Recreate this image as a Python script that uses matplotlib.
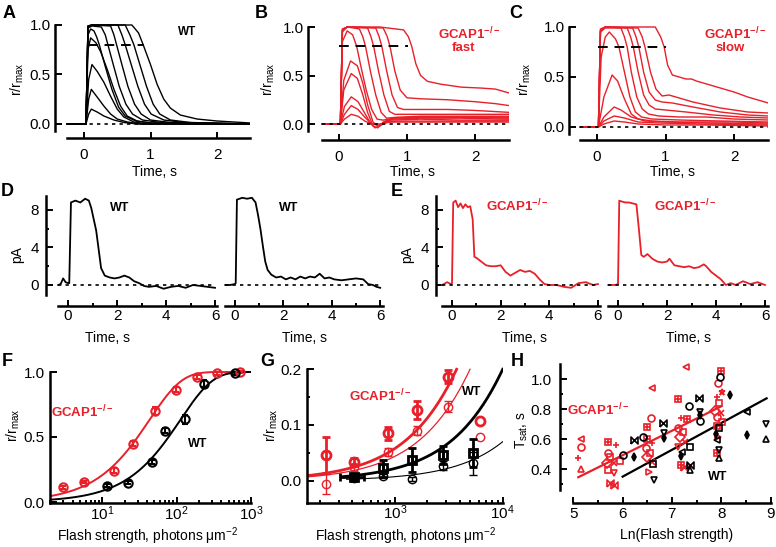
import numpy as np
import matplotlib
matplotlib.use("Agg")
import matplotlib.pyplot as plt
from matplotlib.ticker import LogLocator, NullFormatter

plt.rcParams['font.family'] = ['Liberation Sans', 'DejaVu Sans']
plt.rcParams['mathtext.fontset'] = 'custom'
plt.rcParams['mathtext.rm'] = 'Liberation Sans'
plt.rcParams['mathtext.it'] = 'Liberation Sans:italic'
plt.rcParams['mathtext.bf'] = 'Liberation Sans:bold'

RED = '#e8202a'
TICK_FS = 11
LABEL_FS = 10

# ---------------- data ----------------
# A: WT normalised flash responses (time s, r/rmax)
wt_traces = [
    ([-0.25, 0.03, 0.07, 0.11, 0.2, 0.3, 0.45, 0.6, 0.8, 2.5],
     [0, 0, 0.1, 0.15, 0.12, 0.08, 0.04, 0.015, 0, 0]),
    ([-0.25, 0.03, 0.07, 0.11, 0.2, 0.3, 0.4, 0.5, 0.65, 0.85, 2.5],
     [0, 0, 0.25, 0.35, 0.27, 0.18, 0.1, 0.05, 0.02, 0, 0]),
    ([-0.25, 0.03, 0.07, 0.12, 0.2, 0.3, 0.4, 0.5, 0.6, 0.75, 0.95, 2.5],
     [0, 0, 0.45, 0.6, 0.53, 0.42, 0.28, 0.15, 0.07, 0.02, 0, 0]),
    ([-0.25, 0.03, 0.06, 0.1, 0.18, 0.25, 0.35, 0.45, 0.55, 0.65, 0.8, 1.0, 2.5],
     [0, 0, 0.75, 0.87, 0.82, 0.73, 0.55, 0.35, 0.18, 0.08, 0.03, 0.01, 0]),
    ([-0.25, 0.03, 0.06, 0.1, 0.15, 0.19, 0.23, 0.32, 0.42, 0.52, 0.62, 0.78, 1.0, 2.5],
     [0, 0, 0.9, 0.96, 0.94, 0.88, 0.8, 0.58, 0.35, 0.17, 0.08, 0.03, 0.01, 0]),
    ([-0.25, 0.03, 0.06, 0.12, 0.26, 0.32, 0.36, 0.44, 0.53, 0.63, 0.73, 0.88, 1.2, 2.5],
     [0, 0, 0.97, 0.99, 0.98, 0.9, 0.8, 0.6, 0.38, 0.2, 0.1, 0.04, 0.01, 0]),
    ([-0.25, 0.03, 0.06, 0.12, 0.4, 0.45, 0.49, 0.57, 0.66, 0.76, 0.86, 1.0, 1.3, 2.5],
     [0, 0, 0.98, 1.0, 0.99, 0.9, 0.8, 0.6, 0.38, 0.2, 0.1, 0.04, 0.015, 0]),
    ([-0.25, 0.03, 0.06, 0.12, 0.51, 0.57, 0.62, 0.71, 0.81, 0.91, 1.01, 1.2, 1.5, 2.5],
     [0, 0, 0.99, 1.0, 1.0, 0.9, 0.8, 0.6, 0.38, 0.2, 0.1, 0.04, 0.015, 0]),
    ([-0.25, 0.03, 0.06, 0.12, 0.62, 0.69, 0.75, 0.84, 0.94, 1.04, 1.14, 1.3, 1.6, 2.5],
     [0, 0, 0.99, 1.0, 1.0, 0.9, 0.8, 0.6, 0.38, 0.2, 0.1, 0.04, 0.015, 0]),
    ([-0.25, 0.03, 0.06, 0.12, 0.72, 0.82, 0.89, 1.0, 1.1, 1.2, 1.3, 1.45, 1.7, 2.0, 2.5],
     [0, 0, 0.99, 1.0, 1.0, 0.92, 0.8, 0.6, 0.4, 0.25, 0.16, 0.09, 0.05, 0.03, 0.01]),
]

# B: GCAP1-/- fast rods
fast_traces = [
    ([-0.25, 0.02, 0.08, 0.18, 0.28, 0.38, 0.48, 0.6, 0.75, 1.0, 1.5, 2.0, 2.5],
     [0, 0, 0.05, 0.1, 0.08, 0.03, 0.0, 0.0, 0.02, 0.02, 0.02, 0.02, 0.02]),
    ([-0.25, 0.02, 0.08, 0.18, 0.28, 0.38, 0.48, 0.58, 0.7, 0.85, 1.2, 1.8, 2.5],
     [0, 0, 0.1, 0.19, 0.15, 0.07, 0.0, -0.01, 0.02, 0.03, 0.03, 0.03, 0.03]),
    ([-0.25, 0.02, 0.08, 0.18, 0.28, 0.38, 0.47, 0.53, 0.6, 0.75, 1.2, 1.8, 2.5],
     [0, 0, 0.18, 0.28, 0.23, 0.11, 0.0, -0.04, -0.02, 0.04, 0.05, 0.04, 0.04]),
    ([-0.25, 0.02, 0.07, 0.18, 0.27, 0.35, 0.42, 0.5, 0.57, 0.65, 0.8, 1.2, 1.8, 2.5],
     [0, 0, 0.35, 0.52, 0.47, 0.3, 0.12, -0.02, -0.04, 0.02, 0.05, 0.06, 0.06, 0.05]),
    ([-0.25, 0.02, 0.07, 0.17, 0.27, 0.35, 0.42, 0.5, 0.58, 0.68, 0.8, 1.2, 1.8, 2.5],
     [0, 0, 0.45, 0.65, 0.6, 0.42, 0.2, 0.02, -0.03, 0.03, 0.06, 0.07, 0.07, 0.06]),
    ([-0.25, 0.02, 0.05, 0.12, 0.2, 0.26, 0.32, 0.4, 0.48, 0.56, 0.65, 0.8, 1.2, 1.8, 2.5],
     [0, 0, 0.85, 0.96, 0.92, 0.8, 0.6, 0.35, 0.15, 0.05, 0.04, 0.06, 0.07, 0.07, 0.07]),
    ([-0.25, 0.02, 0.05, 0.12, 0.3, 0.35, 0.39, 0.46, 0.54, 0.62, 0.7, 0.85, 1.2, 1.8, 2.5],
     [0, 0, 0.95, 1.0, 0.98, 0.9, 0.8, 0.55, 0.3, 0.12, 0.06, 0.07, 0.08, 0.08, 0.08]),
    ([-0.25, 0.02, 0.05, 0.12, 0.42, 0.47, 0.51, 0.58, 0.66, 0.74, 0.82, 1.0, 1.5, 2.0, 2.5],
     [0, 0, 0.97, 1.0, 0.99, 0.9, 0.8, 0.55, 0.3, 0.13, 0.1, 0.1, 0.1, 0.1, 0.1]),
    ([-0.25, 0.02, 0.05, 0.12, 0.54, 0.59, 0.63, 0.7, 0.78, 0.86, 0.95, 1.2, 1.6, 2.0, 2.5],
     [0, 0, 0.97, 1.0, 0.99, 0.9, 0.8, 0.55, 0.3, 0.17, 0.15, 0.15, 0.15, 0.14, 0.12]),
    ([-0.25, 0.02, 0.05, 0.12, 0.65, 0.71, 0.75, 0.82, 0.9, 1.0, 1.2, 1.6, 2.0, 2.3, 2.5],
     [0, 0, 0.97, 1.0, 0.99, 0.9, 0.8, 0.55, 0.35, 0.27, 0.26, 0.25, 0.23, 0.21, 0.19]),
    ([-0.25, 0.02, 0.05, 0.12, 0.6, 0.95, 1.02, 1.07, 1.13, 1.2, 1.3, 1.5, 1.8, 2.1, 2.3, 2.5],
     [0, 0, 0.98, 1.0, 1.0, 0.97, 0.9, 0.8, 0.62, 0.5, 0.44, 0.41, 0.38, 0.37, 0.36, 0.32]),
]

# C: GCAP1-/- slow rods
slow_traces = [
    ([-0.25, 0.02, 0.1, 0.25, 0.4, 0.6, 1.0, 1.6, 2.5],
     [0, 0, 0.03, 0.06, 0.05, 0.03, 0.02, 0.02, 0.01]),
    ([-0.25, 0.02, 0.1, 0.25, 0.4, 0.6, 0.9, 1.5, 2.5],
     [0, 0, 0.06, 0.11, 0.09, 0.05, 0.04, 0.03, 0.02]),
    ([-0.25, 0.02, 0.1, 0.25, 0.35, 0.5, 0.7, 1.0, 1.6, 2.5],
     [0, 0, 0.1, 0.2, 0.17, 0.1, 0.06, 0.05, 0.04, 0.03]),
    ([-0.25, 0.02, 0.1, 0.22, 0.3, 0.4, 0.5, 0.6, 0.8, 1.2, 2.0, 2.5],
     [0, 0, 0.3, 0.52, 0.46, 0.28, 0.13, 0.08, 0.06, 0.05, 0.05, 0.04]),
    ([-0.25, 0.02, 0.06, 0.12, 0.18, 0.27, 0.32, 0.4, 0.48, 0.56, 0.65, 0.8, 1.2, 1.8, 2.5],
     [0, 0, 0.7, 0.9, 0.95, 0.88, 0.8, 0.55, 0.3, 0.15, 0.1, 0.08, 0.07, 0.06, 0.05]),
    ([-0.25, 0.02, 0.05, 0.12, 0.35, 0.4, 0.44, 0.5, 0.58, 0.66, 0.75, 0.9, 1.2, 1.6, 2.0, 2.5],
     [0, 0, 0.95, 0.99, 0.99, 0.9, 0.8, 0.55, 0.3, 0.18, 0.13, 0.11, 0.1, 0.1, 0.08, 0.07]),
    ([-0.25, 0.02, 0.05, 0.12, 0.44, 0.49, 0.53, 0.6, 0.68, 0.76, 0.85, 1.0, 1.3, 1.7, 2.1, 2.5],
     [0, 0, 0.96, 1.0, 0.99, 0.9, 0.8, 0.55, 0.32, 0.22, 0.18, 0.17, 0.15, 0.12, 0.1, 0.09]),
    ([-0.25, 0.02, 0.05, 0.12, 0.52, 0.57, 0.61, 0.68, 0.76, 0.85, 0.95, 1.1, 1.4, 1.8, 2.2, 2.5],
     [0, 0, 0.97, 1.0, 0.99, 0.9, 0.8, 0.55, 0.35, 0.27, 0.25, 0.24, 0.2, 0.15, 0.12, 0.11]),
    ([-0.25, 0.02, 0.05, 0.12, 0.6, 0.66, 0.7, 0.78, 0.86, 0.95, 1.05, 1.15, 1.4, 1.8, 2.2, 2.5],
     [0, 0, 0.97, 1.0, 0.99, 0.9, 0.8, 0.55, 0.38, 0.31, 0.32, 0.3, 0.25, 0.19, 0.15, 0.14]),
    ([-0.25, 0.02, 0.05, 0.12, 0.85, 0.93, 0.98, 1.03, 1.1, 1.2, 1.3, 1.38, 1.45, 1.6, 1.8, 2.0, 2.2, 2.5],
     [0, 0, 0.98, 1.0, 1.0, 0.9, 0.8, 0.62, 0.52, 0.5, 0.48, 0.48, 0.46, 0.43, 0.39, 0.35, 0.3, 0.24]),
]

# D / E: single saturating responses (time s, pA)
d_wt1_t = [-0.4, -0.3, -0.2, -0.1, 0.0, 0.05, 0.12, 0.3, 0.5, 0.7, 0.85, 0.95, 1.05, 1.15, 1.25, 1.35,
           1.5, 1.7, 1.9, 2.1, 2.3, 2.5, 2.7, 2.9, 3.1, 3.3, 3.6, 3.9, 4.2, 4.5, 4.8, 5.1, 5.4, 5.7, 6.0]
d_wt1_pa = [0, 0.1, 0.7, 0.3, 0.2, 0.2, 8.8, 9.0, 8.8, 9.2, 9.0, 8.2, 7.0, 5.8, 3.8, 1.8,
            1.0, 0.8, 0.7, 0.8, 1.0, 0.8, 0.4, 0.2, -0.1, -0.2, -0.1, -0.4, -0.2, -0.1, -0.3, 0.0, -0.1, -0.2, -0.3]
d_wt2_t = [-0.4, -0.2, 0.0, 0.03, 0.08, 0.3, 0.5, 0.7, 0.85, 0.95, 1.05, 1.15, 1.25, 1.35, 1.5, 1.7,
           1.9, 2.1, 2.3, 2.5, 2.7, 2.9, 3.1, 3.3, 3.5, 3.7, 3.9, 4.1, 4.4, 4.7, 5.0, 5.3, 5.5, 5.7, 5.85, 6.0]
d_wt2_pa = [0, 0, 0.1, 0.2, 9.1, 9.3, 9.2, 9.3, 8.8, 7.5, 6.0, 4.2, 2.5, 1.6, 1.1, 0.8,
            0.9, 0.6, 0.8, 0.6, 0.9, 0.7, 0.9, 0.8, 1.2, 0.7, 0.8, 0.6, 0.5, 0.6, 0.7, 0.6, 0.1, 0.0, -0.2, -0.3]
e_ko1_t = [-0.4, -0.2, -0.05, 0.0, 0.05, 0.15, 0.25, 0.35, 0.45, 0.55, 0.65, 0.75, 0.85, 0.92, 1.0, 1.2,
           1.4, 1.6, 1.8, 2.0, 2.2, 2.4, 2.6, 2.8, 3.0, 3.2, 3.4, 3.6, 3.8, 4.0, 4.3, 4.6, 4.9, 5.2, 5.5, 5.8, 6.0]
e_ko1_pa = [0, 0.3, 0.1, 0.2, 8.8, 9.0, 8.3, 8.7, 8.2, 8.6, 8.3, 8.4, 7.0, 3.0, 2.9, 2.5,
            2.1, 2.0, 2.0, 2.1, 1.4, 1.0, 1.3, 1.6, 1.4, 1.5, 1.2, 0.6, 0.1, 0.0, 0.0, -0.2, -0.3, 0.2, 0.3, 0.0, 0.1]
e_ko2_t = [-0.4, -0.1, 0.0, 0.05, 0.15, 0.3, 0.45, 0.6, 0.75, 0.85, 0.95, 1.05, 1.2, 1.4, 1.6, 1.8,
           2.0, 2.1, 2.3, 2.5, 2.7, 2.9, 3.1, 3.3, 3.5, 3.6, 3.8, 4.0, 4.2, 4.4, 4.6, 4.8, 5.1, 5.4, 5.7, 6.0]
e_ko2_pa = [0, 0, 0.1, 9.0, 8.9, 8.8, 8.8, 8.7, 8.6, 6.0, 3.2, 3.0, 3.3, 2.8, 2.5, 2.4,
            2.5, 2.8, 2.1, 2.0, 1.9, 2.0, 1.8, 1.9, 2.2, 2.0, 1.4, 1.0, 0.6, 0.0, 0.2, 0.0, 0.4, 0.1, 0.3, 0.0]

# F: intensity-response (photons um-2, r/rmax)
f_ko_flash = [3.0, 5.7, 14.3, 26, 52, 98, 188, 350, 720]
f_ko_r = [0.113, 0.154, 0.24, 0.45, 0.70, 0.865, 0.96, 0.99, 1.0]
f_ko_err = [0.01, 0.01, 0.02, 0.02, 0.03, 0.02, 0.015, 0.01, 0.005]
f_wt_flash = [11.7, 22.3, 46, 69, 129, 237, 617]
f_wt_r = [0.126, 0.15, 0.31, 0.55, 0.635, 0.91, 0.99]
f_wt_err = [0.01, 0.015, 0.015, 0.02, 0.035, 0.025, 0.01]
f_half_ko = 30.0   # half-saturating flash of the fitted curves
f_half_wt = 78.0

# G: dim-flash region at high intensities
g_ko_flash = [227, 418, 855, 1590, 3130]
g_ko_a = [0.046, 0.034, 0.085, 0.127, 0.187]
g_ko_a_err = [0.033, 0.007, 0.012, 0.016, 0.012]
g_ko_b = [-0.006, 0.024, 0.051, 0.09, 0.133]
g_ko_b_err = [0.018, 0.006, 0.007, 0.008, 0.01]
g_ko_extra_flash = [6150]
g_ko_extra_a = [0.108]
g_ko_extra_b = [0.078]
g_wt_flash = [418, 779, 1430, 2810, 5340]
g_wt_a = [0.007, 0.022, 0.037, 0.046, 0.049]
g_wt_a_err = [0.004, 0.016, 0.022, 0.016, 0.025]
g_wt_a_xlo = [309, 779, 1430, 2810, 5340]
g_wt_a_xhi = [509, 779, 1430, 2810, 5340]
g_wt_b = [0.004, 0.008, 0.003, 0.027, 0.031]
g_wt_b_err = [0.003, 0.004, 0.004, 0.008, 0.02]
# fitted curves: flash giving r = level, and the flash range each curve spans
g_fit_names = ['ko_a', 'ko_b', 'wt_a', 'wt_b']
g_fit_flash = [3730, 4970, 10000, 10000]
g_fit_level = [0.2, 0.2, 0.2, 0.07]
g_fit_start = [151, 151, 320, 355]
g_fit_end = [3730, 4970, 10000, 10000]

# H: Tsat vs ln(flash)
h_ko_x = [5.15, 5.15, 5.10, 5.15, 5.70, 5.86, 5.70, 5.74, 5.69, 5.82, 5.71, 5.82, 5.74, 5.82, 5.95,
          6.59, 6.57, 6.49, 6.50, 6.59, 6.47, 6.55, 6.49, 6.59, 6.54,
          7.28, 7.13, 7.18, 7.30, 7.13, 7.23, 7.16, 7.26, 7.13, 7.18, 7.24,
          7.99, 7.94, 8.01, 7.92, 7.96, 7.87, 7.99, 7.91, 8.01, 7.92, 7.94, 7.91]
h_ko_y = [0.60, 0.547, 0.473, 0.40, 0.584, 0.562, 0.507, 0.484, 0.444, 0.444, 0.396, 0.378, 0.311, 0.293, 0.458,
          0.94, 0.744, 0.684, 0.60, 0.573, 0.54, 0.511, 0.484, 0.451, 0.384,
          1.08, 0.867, 0.74, 0.733, 0.673, 0.651, 0.613, 0.584, 0.551, 0.429, 0.413,
          1.058, 0.978, 0.918, 0.884, 0.844, 0.791, 0.773, 0.747, 0.718, 0.689, 0.618, 0.507]
h_ko_mk = ['<', 'o', '+', '^', 'S', '+', 'o', 's', 'D', 'x', 's', 'v', 'bow', 'bow', 's',
           '<', 'o', 'S', 'S', '+', 'o', 's', 'D', 'x', '>',
           '<', 'S', '+', 'S', 'o', 's', 'D', 'x', 'v', 'S', 'bow',
           'S', 'o', '*', '+', 's', 'D', 'x', 'o', 's', 'S', '>', 'S']
h_wt_x = [6.0, 6.23, 6.23, 6.41, 6.62, 6.64, 6.82, 6.84, 6.84, 7.35, 7.36, 7.20, 7.18, 7.36, 7.36,
          7.55, 7.57, 7.57, 7.57, 7.97, 7.96, 7.89, 7.91, 7.96, 7.96, 8.18, 8.53, 8.91, 8.53, 8.91]
h_wt_y = [0.496, 0.596, 0.484, 0.613, 0.433, 0.329, 0.707, 0.644, 0.607, 0.822, 0.551, 0.518, 0.489, 0.429, 0.396,
          0.873, 0.784, 0.762, 0.724, 1.018, 0.673, 0.636, 0.596, 0.529, 0.473, 0.896, 0.784, 0.70, 0.627, 0.60]
h_wt_mk = ['o', 'bow', 'd', 'o', 's', 'v', 'bow', 'v', 'd', 'o', 's', '<', 'd', 'bow', '^',
           'bow', 'v', 'd', 'o', 'o', 's', 'd', '<', 'v', '^', 'd', '<', 'v', 'd', '^']
h_ko_line_x = [5.1, 8.0]
h_ko_line_y = [0.347, 0.82]
h_wt_line_x = [6.0, 8.92]
h_wt_line_y = [0.351, 0.873]

# ---------------- layout helpers (pixel coordinates of the 776x547 figure) ----------------
W, H = 776, 547
fig = plt.figure(figsize=(W / 100, H / 100), dpi=100)
PX = 0.72  # points per pixel


def make_ax(l, t, r, b, xlim, ylim, xlog=False):
    ax = fig.add_axes([l / W, 1 - b / H, (r - l) / W, (b - t) / H])
    if xlog:
        ax.set_xscale('log')
    ax.set_xlim(xlim)
    ax.set_ylim(ylim)
    ax.patch.set_alpha(0)
    for s in ('top', 'right'):
        ax.spines[s].set_visible(False)
    for s in ('left', 'bottom'):
        ax.spines[s].set_linewidth(1.8)
    ax.tick_params(which='both', direction='in', width=1.4, labelsize=TICK_FS)
    ax.tick_params(which='major', length=4)
    ax.tick_params(which='minor', length=2.5)
    return ax


def spines(ax, left=0, bottom=0, ybounds=None, xbounds=None, noleft=False):
    if noleft:
        ax.spines['left'].set_visible(False)
        ax.tick_params(which='both', left=False, labelleft=False)
    else:
        ax.spines['left'].set_position(('outward', left * PX))
        if ybounds:
            ax.spines['left'].set_bounds(*ybounds)
    ax.spines['bottom'].set_position(('outward', bottom * PX))
    if xbounds:
        ax.spines['bottom'].set_bounds(*xbounds)


def ftext(x, y, s, **kw):
    kw.setdefault('ha', 'center')
    kw.setdefault('va', 'center')
    fig.text(x / W, 1 - y / H, s, **kw)


KO = r'GCAP1$^{\mathbf{-/-}}$'


def trace_panel(box, xlim, ylim, lout, bout, traces, color, dash):
    ax = make_ax(*box, xlim, ylim)
    spines(ax, lout, bout, (ylim[0], 1.0), (-0.25, 2.5))
    for t, r in traces:
        ax.plot(t, r, color=color, lw=1.0)
    ax.plot([-0.25, 2.5], [0, 0], color='black', lw=1.2, dashes=(2, 2.5))
    ax.plot(dash, [0.8, 0.8], color='black', lw=1.4, dashes=(5, 3.5))
    ax.set_xticks([0, 1, 2])
    ax.set_yticks([0, 0.5, 1.0])
    ax.set_yticklabels(['0.0', '0.5', '1.0'])
    ax.tick_params(axis='x', pad=7)
    ax.tick_params(axis='y', pad=3, length=5)
    return ax


# ---------------- A, B, C ----------------
trace_panel((64.05, 20.05, 250.25, 130.9), (-0.3, 2.5), (-0.07, 1.05), 9, 7,
            wt_traces, 'black', [0.06, 0.9])
trace_panel((318.6, 22.15, 509.0, 130.8), (-0.3, 2.5), (-0.07, 1.05), 10.6, 9.2,
            fast_traces, RED, [0.0, 1.02])
trace_panel((576.5, 22.0, 768.25, 134.0), (-0.3, 2.5), (-0.07, 1.05), 7.5, 6,
            slow_traces, RED, [0.02, 1.0])


# ---------------- D, E ----------------
def current_panel(box, lout, t, pa, color, noleft):
    ax = make_ax(*box, (-0.45, 6.1), (-1.1, 9.8))
    spines(ax, lout, 10.7, (-1.07, 9.5), (-0.42, 6.1), noleft=noleft)
    ax.plot(t, pa, color=color, lw=1.3)
    ax.plot([-0.4, 6.0], [0, 0], color='black', lw=1.2, dashes=(2, 2.5))
    ax.set_xticks([0, 2, 4, 6])
    ax.set_xticks([1, 3, 5], minor=True)
    ax.set_yticks([0, 4, 8])
    ax.set_yticks([2, 6], minor=True)
    ax.tick_params(axis='x', pad=2.5)
    ax.tick_params(axis='y', pad=5, length=5)
    return ax


current_panel((57.0, 193.1, 217.45, 295.3), 11, d_wt1_t, d_wt1_pa, 'black', False)
current_panel((224.1, 193.1, 382.6, 295.3), 0, d_wt2_t, d_wt2_pa, 'black', True)
current_panel((441.05, 193.1, 600.4, 295.3), 5, e_ko1_t, e_ko1_pa, RED, False)
current_panel((607.0, 193.1, 767.5, 295.3), 0, e_ko2_t, e_ko2_pa, RED, True)

# ---------------- F ----------------
axf = make_ax(50.2, 365.5, 251.0, 503.3, (2, 1000), (-0.01, 1.05), xlog=True)
spines(axf, 0, 0, (-0.01, 1.0))
xs = np.logspace(np.log10(2), 3, 200)
axf.plot(xs, 1 - np.exp(-np.log(2) * xs / f_half_ko), color=RED, lw=1.4)
axf.plot(xs, 1 - np.exp(-np.log(2) * xs / f_half_wt), color='black', lw=1.4)
for fx, fy, fe, c in ((f_ko_flash, f_ko_r, f_ko_err, RED), (f_wt_flash, f_wt_r, f_wt_err, 'black')):
    axf.errorbar(fx, fy, yerr=fe, fmt='o', ms=6, mfc='none', mec=c, mew=1.5,
                 ecolor=c, elinewidth=1.5, capsize=2.5, capthick=1.5, clip_on=False)
axf.xaxis.set_major_locator(LogLocator(base=10, numticks=10))
axf.xaxis.set_minor_locator(LogLocator(base=10, subs=np.arange(2, 10), numticks=20))
axf.xaxis.set_minor_formatter(NullFormatter())
axf.set_yticks([0, 0.5, 1.0])
axf.set_yticklabels(['0.0', '0.5', '1.0'])
axf.tick_params(axis='x', pad=0.5)
axf.tick_params(axis='y', pad=4, length=5)

# ---------------- G ----------------
axg = make_ax(306.7, 363.7, 502.7, 503.0, (151, 1e4), (-0.04, 0.21), xlog=True)
spines(axg, 0, 0, (-0.04, 0.2))
fit_style = {'ko_a': (RED, 2.0), 'ko_b': (RED, 0.9), 'wt_a': ('black', 2.0), 'wt_b': ('black', 0.8)}
for name, ff, lv, s0, s1 in zip(g_fit_names, g_fit_flash, g_fit_level, g_fit_start, g_fit_end):
    k = -np.log(1 - lv) / ff
    xs = np.logspace(np.log10(s0), np.log10(s1), 150)
    c, lw = fit_style[name]
    axg.plot(xs, 1 - np.exp(-k * xs), color=c, lw=lw)
axg.errorbar(g_ko_flash, g_ko_a, yerr=g_ko_a_err, fmt='o', ms=6.5, mfc='none', mec=RED, mew=2,
             ecolor=RED, elinewidth=2, capsize=3, capthick=2, clip_on=False)
axg.errorbar(g_ko_flash, g_ko_b, yerr=g_ko_b_err, fmt='o', ms=6, mfc='none', mec=RED, mew=1,
             ecolor=RED, elinewidth=1, capsize=3, capthick=1, clip_on=False)
axg.plot(g_ko_extra_flash, g_ko_extra_a, 'o', ms=6.5, mfc='none', mec=RED, mew=2, clip_on=False)
axg.plot(g_ko_extra_flash, g_ko_extra_b, 'o', ms=6, mfc='none', mec=RED, mew=1, clip_on=False)
xerr = [np.array(g_wt_flash) - np.array(g_wt_a_xlo), np.array(g_wt_a_xhi) - np.array(g_wt_flash)]
axg.errorbar(g_wt_flash, g_wt_a, yerr=g_wt_a_err, xerr=xerr, fmt='s', ms=6, mfc='none', mec='black',
             mew=2, ecolor='black', elinewidth=2, capsize=3, capthick=2, clip_on=False)
axg.errorbar(g_wt_flash, g_wt_b, yerr=g_wt_b_err, fmt='o', ms=6, mfc='none', mec='black', mew=1,
             ecolor='black', elinewidth=1, capsize=3, capthick=1, clip_on=False)
axg.xaxis.set_major_locator(LogLocator(base=10, numticks=10))
axg.xaxis.set_minor_locator(LogLocator(base=10, subs=np.arange(2, 10), numticks=20))
axg.xaxis.set_minor_formatter(NullFormatter())
axg.set_yticks([0, 0.1, 0.2])
axg.set_yticks([0.05, 0.15], minor=True)
axg.set_yticklabels(['0.0', '0.1', '0.2'])
axg.tick_params(axis='x', pad=0.5)
axg.tick_params(axis='y', pad=3.5, length=5)

# ---------------- H ----------------
axh = make_ax(560.0, 362.8, 773.0, 491.8, (4.73, 9.05), (0.25, 1.11))
spines(axh, 0, 11, (0.26, 1.1), (5, 9))
BOW = [(-1, -1), (1, 1), (1, -1), (-1, 1), (-1, -1)]


def h_points(xs, ys, mks, c):
    for x, y, m in zip(xs, ys, mks):
        kw = dict(ls='none', mec=c, mfc='none', mew=1.2, ms=5, clip_on=False)
        if m == 'bow':
            axh.plot(x, y, marker=BOW, **kw)
        elif m == 'S':
            axh.plot(x, y, marker='s', **kw)
            axh.plot(x, y, marker='+', **kw)
        elif m == 'd':
            axh.plot(x, y, marker='d', **dict(kw, mfc=c, ms=4))
        else:
            axh.plot(x, y, marker=m, **kw)


axh.plot(h_ko_line_x, h_ko_line_y, color=RED, lw=1.6)
axh.plot(h_wt_line_x, h_wt_line_y, color='black', lw=1.6)
h_points(h_ko_x, h_ko_y, h_ko_mk, RED)
h_points(h_wt_x, h_wt_y, h_wt_mk, 'black')
axh.set_xticks([5, 6, 7, 8, 9])
axh.set_xticks([5.5, 6.5, 7.5, 8.5], minor=True)
axh.set_yticks([0.4, 0.6, 0.8, 1.0])
axh.set_yticks([0.3, 0.5, 0.7, 0.9], minor=True)
axh.tick_params(axis='x', pad=3)
axh.tick_params(axis='y', pad=6, length=5)

# ---------------- text ----------------
for ch, x, y in (('A', 9, 14), ('B', 261, 13), ('C', 516, 13), ('D', 7, 192), ('E', 397, 192),
                 ('F', 7, 361), ('G', 267, 361), ('H', 517, 361)):
    ftext(x, y, ch, fontsize=13, fontweight='bold')

rmax = r'r/r$_{\mathregular{max}}$'
for x, y in ((17, 79), (268, 79), (524, 79), (13, 425), (271, 425)):
    ftext(x, y, rmax, fontsize=LABEL_FS, rotation=90)
ftext(17, 255, 'pA', fontsize=LABEL_FS, rotation=90)
ftext(407, 255, 'pA', fontsize=LABEL_FS, rotation=90)
ftext(522, 430, r'T$_{\mathregular{sat}}$, s', fontsize=LABEL_FS, rotation=90)

for x, y in ((154, 172), (412, 172), (672, 172), (107, 338), (305, 338), (525, 338), (688, 338)):
    ftext(x, y, 'Time, s', fontsize=LABEL_FS)
ftext(148, 536, r'Flash strength, photons $\mathregular{\mu m^{-2}}$', fontsize=LABEL_FS)
ftext(406, 536, r'Flash strength, photons $\mathregular{\mu m^{-2}}$', fontsize=LABEL_FS)
ftext(677, 535, 'Ln(Flash strength)', fontsize=LABEL_FS)

ftext(187, 32, 'WT', fontsize=8.5, fontweight='bold')
ftext(469, 34, KO, fontsize=9.5, fontweight='bold', color=RED)
ftext(463, 48, 'fast', fontsize=9.5, fontweight='bold', color=RED)
ftext(735, 34, KO, fontsize=9.5, fontweight='bold', color=RED)
ftext(730, 48, 'slow', fontsize=9.5, fontweight='bold', color=RED)
ftext(120, 208, 'WT', fontsize=9, fontweight='bold')
ftext(289, 208, 'WT', fontsize=9, fontweight='bold')
ftext(517, 206, KO, fontsize=9.5, fontweight='bold', color=RED)
ftext(685, 206, KO, fontsize=9.5, fontweight='bold', color=RED)
ftext(82, 412, KO, fontsize=9.5, fontweight='bold', color=RED)
ftext(198, 444, 'WT', fontsize=9, fontweight='bold')
ftext(380, 396, KO, fontsize=9.5, fontweight='bold', color=RED)
ftext(472, 392, 'WT', fontsize=9, fontweight='bold')
ftext(598, 410, KO, fontsize=9.5, fontweight='bold', color=RED)
ftext(718, 477, 'WT', fontsize=9, fontweight='bold')

fig.savefig('out.png', dpi=100)
